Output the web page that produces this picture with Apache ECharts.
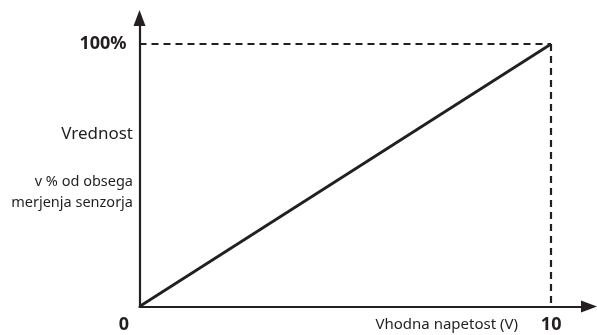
<!DOCTYPE html>
<html>
<head>
<meta charset="utf-8">
<script src="https://cdn.jsdelivr.net/npm/echarts@6/dist/echarts.min.js"></script>
<style>
  html, body { margin: 0; padding: 0; background: #fff; }
  #chart { width: 597px; height: 335px; }
</style>
</head>
<body>
<div id="chart"></div>
<script>
// 数据
var xValues = [0, 10]; // 输入电压 (V)
var yValues = [0, 100]; // 量程百分比
var xTicks = [0, 10];
var yTicks = [100];
var xTitle = 'Vhodna napetost (V)';
var yTitle = 'Vrednost';
var yTitle2 = ['v % od obsega', 'merjenja senzorja'];

var ink = '#231f20';
var font = '"Noto Sans", sans-serif';

var chart = echarts.init(document.getElementById('chart'));

// 直线数据
var lineData = [];
for (var i = 0; i < xValues.length; i++) {
    lineData.push([xValues[i], yValues[i]]);
}

// 文字
function label(x, y, text, size) {
    return {
        type: 'text',
        x: x,
        y: y,
        style: {
            text: text,
            font: size + 'px ' + font,
            fill: ink,
            align: 'right',
            verticalAlign: 'middle'
        }
    };
}

var option = {
    animation: false,
    grid: {
        left: 139.5,
        right: 8,
        top: 18,
        bottom: 28.5
    },
    xAxis: {
        type: 'value',
        min: 0,
        max: 10.92, // 箭头超出 10 的部分
        interval: 10,
        axisLine: {
            show: true,
            symbol: ['none', 'triangle'],
            symbolSize: [12, 16],
            lineStyle: { color: ink, width: 2.2 }
        },
        axisTick: { show: false },
        splitLine: { show: false },
        axisLabel: {
            showMaxLabel: false,
            margin: 9,
            formatter: function (v) {
                if (xTicks.indexOf(v) < 0) return '';
                return v === 0 ? '{z|' + v + '}' : '{b|' + v + '}';
            },
            rich: {
                z: { fontFamily: font, fontWeight: 'bold', fontSize: 18, color: ink, padding: [0, 31, 0, 0] },
                b: { fontFamily: font, fontWeight: 'bold', fontSize: 18, color: ink }
            }
        }
    },
    yAxis: {
        type: 'value',
        min: 0,
        max: 109.9,
        interval: 100,
        axisLine: {
            show: true,
            symbol: ['none', 'triangle'],
            symbolSize: [12, 16],
            lineStyle: { color: ink, width: 2.2 }
        },
        axisTick: { show: false },
        splitLine: { show: false },
        axisLabel: {
            showMaxLabel: false,
            margin: 13,
            fontFamily: font,
            fontWeight: 'bold',
            fontSize: 18,
            color: ink,
            formatter: function (v) {
                return yTicks.indexOf(v) >= 0 ? v + '%' : '';
            }
        }
    },
    series: [{
        type: 'line',
        data: lineData,
        symbol: 'none',
        lineStyle: { color: ink, width: 2.8 },
        markLine: {
            silent: true,
            symbol: ['none', 'none'],
            label: { show: false },
            lineStyle: { color: ink, width: 2.2, type: [7, 5] },
            data: [
                [{ coord: [xValues[0], yValues[1]] }, { coord: [xValues[1], yValues[1]] }],
                [{ coord: [xValues[1], yValues[1]] }, { coord: [xValues[1], yValues[0]] }]
            ]
        }
    }],
    graphic: [
        label(518, 325, xTitle, 15),
        label(133, 134, yTitle, 17),
        label(133, 182, yTitle2[0], 14.5),
        label(133, 203, yTitle2[1], 14.5)
    ]
};

chart.setOption(option);
</script>
</body>
</html>
